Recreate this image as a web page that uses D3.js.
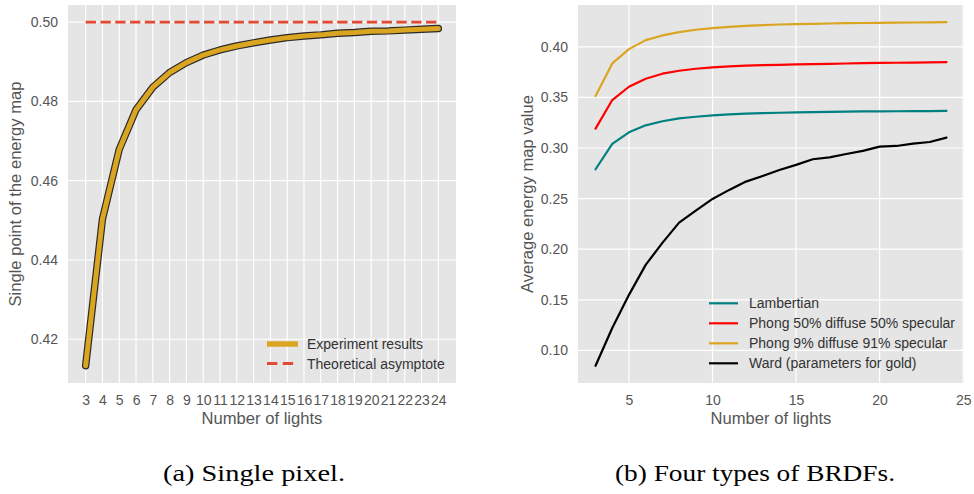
<!DOCTYPE html>
<html>
<head>
<meta charset="utf-8">
<script src="https://cdn.jsdelivr.net/npm/d3@7"></script>
<style>
  html, body { margin: 0; padding: 0; background: #fff; }
  svg { display: block; }
</style>
</head>
<body>
<svg id="chart" width="974" height="494"></svg>
<script>
// ---------- Data ----------
const lights = [3,4,5,6,7,8,9,10,11,12,13,14,15,16,17,18,19,20,21,22,23,24];
const experiment = [0.4133,0.4503,0.4679,0.4779,0.4836,0.4873,0.4898,0.4917,0.4930,0.4940,0.4948,0.4955,0.4961,0.4965,0.4968,0.4972,0.4974,0.4977,0.4978,0.4980,0.4982,0.4984];
const asymptote = 0.5;
const ticksA = [0.42,0.44,0.46,0.48,0.50];

const lambertian = [0.2790,0.3040,0.3155,0.3224,0.3264,0.3293,0.3309,0.3323,0.3333,0.3339,0.3344,0.3348,0.3352,0.3355,0.3357,0.3359,0.3361,0.3362,0.3363,0.3364,0.3365,0.3366];
const phong50 = [0.3191,0.3474,0.3605,0.3684,0.3734,0.3763,0.3783,0.3797,0.3806,0.3813,0.3818,0.3822,0.3826,0.3829,0.3832,0.3835,0.3838,0.3840,0.3842,0.3844,0.3846,0.3848];
const phong9 = [0.3513,0.3836,0.3977,0.4066,0.4112,0.4145,0.4168,0.4185,0.4197,0.4207,0.4214,0.4220,0.4224,0.4227,0.4230,0.4233,0.4235,0.4237,0.4239,0.4240,0.4241,0.4243];
const ward = [0.0848,0.1222,0.1549,0.1845,0.2063,0.2263,0.2381,0.2497,0.2586,0.2668,0.2724,0.2783,0.2833,0.2889,0.2908,0.2941,0.2971,0.3013,0.3020,0.3043,0.3059,0.3102];
const seriesNames = ["Lambertian","Phong 50% diffuse 50% specular","Phong 9% diffuse 91% specular","Ward (parameters for gold)"];
const seriesColors = ["#008080","#ff0000","#daa520","#000000"];
const ticksBx = [5,10,15,20,25];
const ticksBy = [0.10,0.15,0.20,0.25,0.30,0.35,0.40];
const captions = ["(a) Single pixel.","(b) Four types of BRDFs."];

// ---------- Helpers ----------
const svg = d3.select("#chart");
svg.append("rect").attr("width",974).attr("height",494).attr("fill","#fff");
const SANS = "'Liberation Sans', Arial, Helvetica, sans-serif";
function padDomain(lo, hi){ const r = hi - lo; return [lo - 0.05*r, hi + 0.05*r]; }

function panel(opt){
  const g = svg.append("g");
  const x = d3.scaleLinear().domain(padDomain(opt.xmin, opt.xmax)).range([opt.left, opt.right]);
  const y = d3.scaleLinear().domain(padDomain(opt.ymin, opt.ymax)).range([opt.bottom, opt.top]);
  g.append("rect").attr("x",opt.left).attr("y",opt.top)
    .attr("width",opt.right-opt.left).attr("height",opt.bottom-opt.top).attr("fill","#e5e5e5");
  // grid
  g.selectAll(".gx").data(opt.xticks).enter().append("line")
    .attr("x1",d=>x(d)).attr("x2",d=>x(d)).attr("y1",opt.top).attr("y2",opt.bottom)
    .attr("stroke","#fff").attr("stroke-width",1.2);
  g.selectAll(".gy").data(opt.yticks).enter().append("line")
    .attr("x1",opt.left).attr("x2",opt.right).attr("y1",d=>y(d)).attr("y2",d=>y(d))
    .attr("stroke","#fff").attr("stroke-width",1.2);
  // axes via d3 axis (no tick lines)
  const xa = g.append("g").attr("transform",`translate(0,${opt.bottom})`)
    .call(d3.axisBottom(x).tickValues(opt.xticks).tickSize(0).tickPadding(12).tickFormat(opt.xfmt));
  const ya = g.append("g").attr("transform",`translate(${opt.left},0)`)
    .call(d3.axisLeft(y).tickValues(opt.yticks).tickSize(0).tickPadding(10).tickFormat(d3.format(".2f")));
  [xa,ya].forEach(a=>{
    a.select(".domain").remove();
    a.selectAll("text").attr("fill","#555").style("font-family",SANS).style("font-size","14px");
  });
  // labels
  g.append("text").attr("x",(opt.left+opt.right)/2).attr("y",424).attr("text-anchor","middle")
    .attr("fill","#555").style("font-family",SANS).style("font-size","16.6px").text(opt.xlabel);
  g.append("text").attr("transform",`translate(${opt.ylabelX},${(opt.top+opt.bottom)/2}) rotate(-90)`)
    .attr("text-anchor","middle").attr("dy","0.36em")
    .attr("fill","#555").style("font-family",SANS).style("font-size","16.6px").text(opt.ylabel);
  return {g,x,y};
}

// ---------- Panel (a) ----------
const A = panel({left:68,right:456,top:5,bottom:383,
  xmin:d3.min(lights), xmax:d3.max(lights),
  ymin:d3.min(experiment), ymax:asymptote,
  xticks:lights, yticks:ticksA, xfmt:d3.format("d"),
  xlabel:"Number of lights", ylabel:"Single point of the energy map", ylabelX:15.5});
const lineA = d3.line().x((d,i)=>A.x(lights[i])).y(d=>A.y(d));
A.g.append("path").attr("d",lineA(experiment)).attr("fill","none")
  .attr("stroke","#2b2b2b").attr("stroke-width",7.4).attr("stroke-linecap","round").attr("stroke-linejoin","round");
A.g.append("path").attr("d",lineA(experiment)).attr("fill","none")
  .attr("stroke","#daa520").attr("stroke-width",5).attr("stroke-linecap","round").attr("stroke-linejoin","round");
A.g.append("line").attr("x1",A.x(d3.min(lights))).attr("x2",A.x(d3.max(lights)))
  .attr("y1",A.y(asymptote)).attr("y2",A.y(asymptote))
  .attr("stroke","#e24a33").attr("stroke-width",2.8).attr("stroke-dasharray","10.3,4.5");
// legend (a)
const legA = A.g.append("g");
legA.append("line").attr("x1",267).attr("x2",298).attr("y1",344).attr("y2",344)
  .attr("stroke","#daa520").attr("stroke-width",5.5);
legA.append("line").attr("x1",267).attr("x2",298).attr("y1",363.5).attr("y2",363.5)
  .attr("stroke","#e24a33").attr("stroke-width",2.8).attr("stroke-dasharray","10.3,5.5");
["Experiment results","Theoretical asymptote"].forEach((t,i)=>{
  legA.append("text").attr("x",307).attr("y",344+i*19.5).attr("dy","0.36em")
    .attr("fill","#333").style("font-family",SANS).style("font-size","14px").text(t);
});

// ---------- Panel (b) ----------
const allB = [lambertian, phong50, phong9, ward];
const B = panel({left:578,right:964,top:5,bottom:383,
  xmin:d3.min(lights), xmax:d3.max(lights),
  ymin:d3.min(allB.flat()), ymax:d3.max(allB.flat()),
  xticks:ticksBx, yticks:ticksBy, xfmt:d3.format("d"),
  xlabel:"Number of lights", ylabel:"Average energy map value", ylabelX:527});
const lineB = d3.line().x((d,i)=>B.x(lights[i])).y(d=>B.y(d));
allB.forEach((s,k)=>{
  B.g.append("path").attr("d",lineB(s)).attr("fill","none")
    .attr("stroke",seriesColors[k]).attr("stroke-width",2.2).attr("stroke-linejoin","round").attr("stroke-linecap","round");
});
const legB = B.g.append("g");
seriesNames.forEach((t,i)=>{
  const yy = 303.3 + i*20;
  legB.append("line").attr("x1",709).attr("x2",738).attr("y1",yy).attr("y2",yy)
    .attr("stroke",seriesColors[i]).attr("stroke-width",2.2);
  legB.append("text").attr("x",749).attr("y",yy).attr("dy","0.36em")
    .attr("fill","#333").style("font-family",SANS).style("font-size","14px").text(t);
});

// ---------- Captions ----------
const capPos = [{x:163,w:182},{x:615,w:280}];
captions.forEach((c,i)=>{
  svg.append("text").attr("x",capPos[i].x).attr("y",481)
    .attr("textLength",capPos[i].w).attr("lengthAdjust","spacingAndGlyphs")
    .attr("fill","#000").style("font-family","'Liberation Serif','DejaVu Serif',serif").style("font-size","24px")
    .text(c);
});
</script>
</body>
</html>
